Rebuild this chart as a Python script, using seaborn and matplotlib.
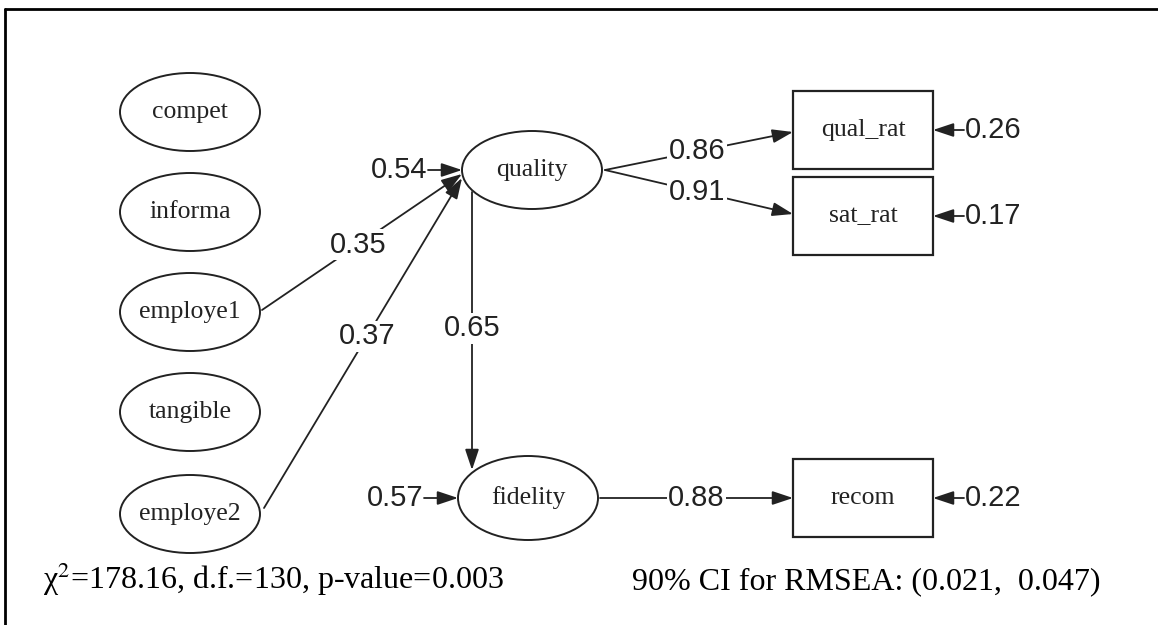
import matplotlib
matplotlib.use('Agg')
import matplotlib.pyplot as plt
from matplotlib.patches import Ellipse, Rectangle, FancyArrowPatch, ArrowStyle
import seaborn as sns

# model content
latent_names = ['compet', 'informa', 'employe1', 'tangible', 'employe2', 'quality', 'fidelity']
observed_names = ['qual_rat', 'sat_rat', 'recom']
paths_from = ['employe1', 'employe2', 'quality', 'quality', 'quality', 'fidelity']
paths_to = ['quality', 'quality', 'qual_rat', 'sat_rat', 'fidelity', 'recom']
path_coef = [0.35, 0.37, 0.86, 0.91, 0.65, 0.88]
error_nodes = ['quality', 'fidelity', 'qual_rat', 'sat_rat', 'recom']
error_vals = [0.54, 0.57, 0.26, 0.17, 0.22]
fit_text = 'χ$^{2}$=178.16, d.f.=130, p-value=0.003'
rmsea_text = '90% CI for RMSEA: (0.021,  0.047)'

# layout in pixel coordinates (y down)
pos = {'compet': (190, 112), 'informa': (190, 212), 'employe1': (190, 312),
       'tangible': (190, 412), 'employe2': (190, 514), 'quality': (532, 170),
       'fidelity': (528, 498), 'qual_rat': (863, 130), 'sat_rat': (863, 216),
       'recom': (863, 498)}
# where each path line starts / ends and where its label sits (fraction along)
path_ends = {('employe1', 'quality'): ((262, 310), (462, 174), 0.48),
             ('employe2', 'quality'): ((264, 508), (462, 178), 0.52),
             ('quality', 'qual_rat'): ((605, 170), (793, 132), 0.49),
             ('quality', 'sat_rat'): ((605, 170), (793, 214), 0.49),
             ('quality', 'fidelity'): ((472, 192), (472, 470), 0.49),
             ('fidelity', 'recom'): ((600, 498), (793, 498), 0.5)}

sns.set_theme(style='white')
plt.rcParams['mathtext.fontset'] = 'stix'
ink = '#222222'
num_font = 'Liberation Sans'
node_font = 'Liberation Serif'

fig = plt.figure(figsize=(11.58, 6.25), dpi=100)
ax = fig.add_axes([0, 0, 1, 1])
ax.set_xlim(0, 1158)
ax.set_ylim(625, 0)
ax.axis('off')

# frame (top and left edges)
sns.lineplot(x=[5, 1158], y=[9, 9], estimator=None, sort=False, color='black', lw=2, ax=ax)
sns.lineplot(x=[5, 5], y=[9, 625], estimator=None, sort=False, color='black', lw=2, ax=ax)

arrow = ArrowStyle('-|>', head_length=0.9, head_width=0.3)

for name in latent_names:
    cx, cy = pos[name]
    h = 84 if name == 'fidelity' else 78
    ax.add_patch(Ellipse((cx, cy), 140, h, fill=False, ec=ink, lw=1.4))
    ax.text(cx, cy, name, ha='center', va='center', fontsize=18.5, family=node_font, color=ink)

for name in observed_names:
    cx, cy = pos[name]
    ax.add_patch(Rectangle((cx - 70, cy - 39), 140, 78, fill=False, ec=ink, lw=1.6))
    ax.text(cx, cy, name, ha='center', va='center', fontsize=18.5, family=node_font, color=ink)

for src, dst, coef in zip(paths_from, paths_to, path_coef):
    (x0, y0), (x1, y1), t = path_ends[(src, dst)]
    ax.add_patch(FancyArrowPatch((x0, y0), (x1, y1), arrowstyle=arrow, mutation_scale=14,
                                 color=ink, lw=1.3, shrinkA=0, shrinkB=0))
    lx = x0 + (x1 - x0) * t
    ly = y0 + (y1 - y0) * t
    ax.text(lx, ly, f'{coef:.2f}', ha='center', va='center', fontsize=21, family=num_font,
            color=ink, bbox=dict(fc='white', ec='none', pad=1))

for name, val in zip(error_nodes, error_vals):
    cx, cy = pos[name]
    if name in observed_names:
        tip = (cx + 70, cy)
        start = (cx + 101, cy)
        ax.text(cx + 102, cy, f'{val:.2f}', ha='left', va='center', fontsize=21,
                family=num_font, color=ink)
    else:
        tip = (cx - 70, cy)
        start = (cx - 104, cy)
        ax.text(cx - 105, cy, f'{val:.2f}', ha='right', va='center', fontsize=21,
                family=num_font, color=ink)
    ax.add_patch(FancyArrowPatch(start, tip, arrowstyle=arrow, mutation_scale=14,
                                 color=ink, lw=1.3, shrinkA=0, shrinkB=0))

ax.text(43, 589, fit_text, ha='left', va='baseline', fontsize=23, family='Liberation Serif', color='black')
ax.text(632, 589, rmsea_text, ha='left', va='baseline', fontsize=23, family='Liberation Serif', color='black')

fig.savefig('out.png', dpi=100, facecolor='white')
